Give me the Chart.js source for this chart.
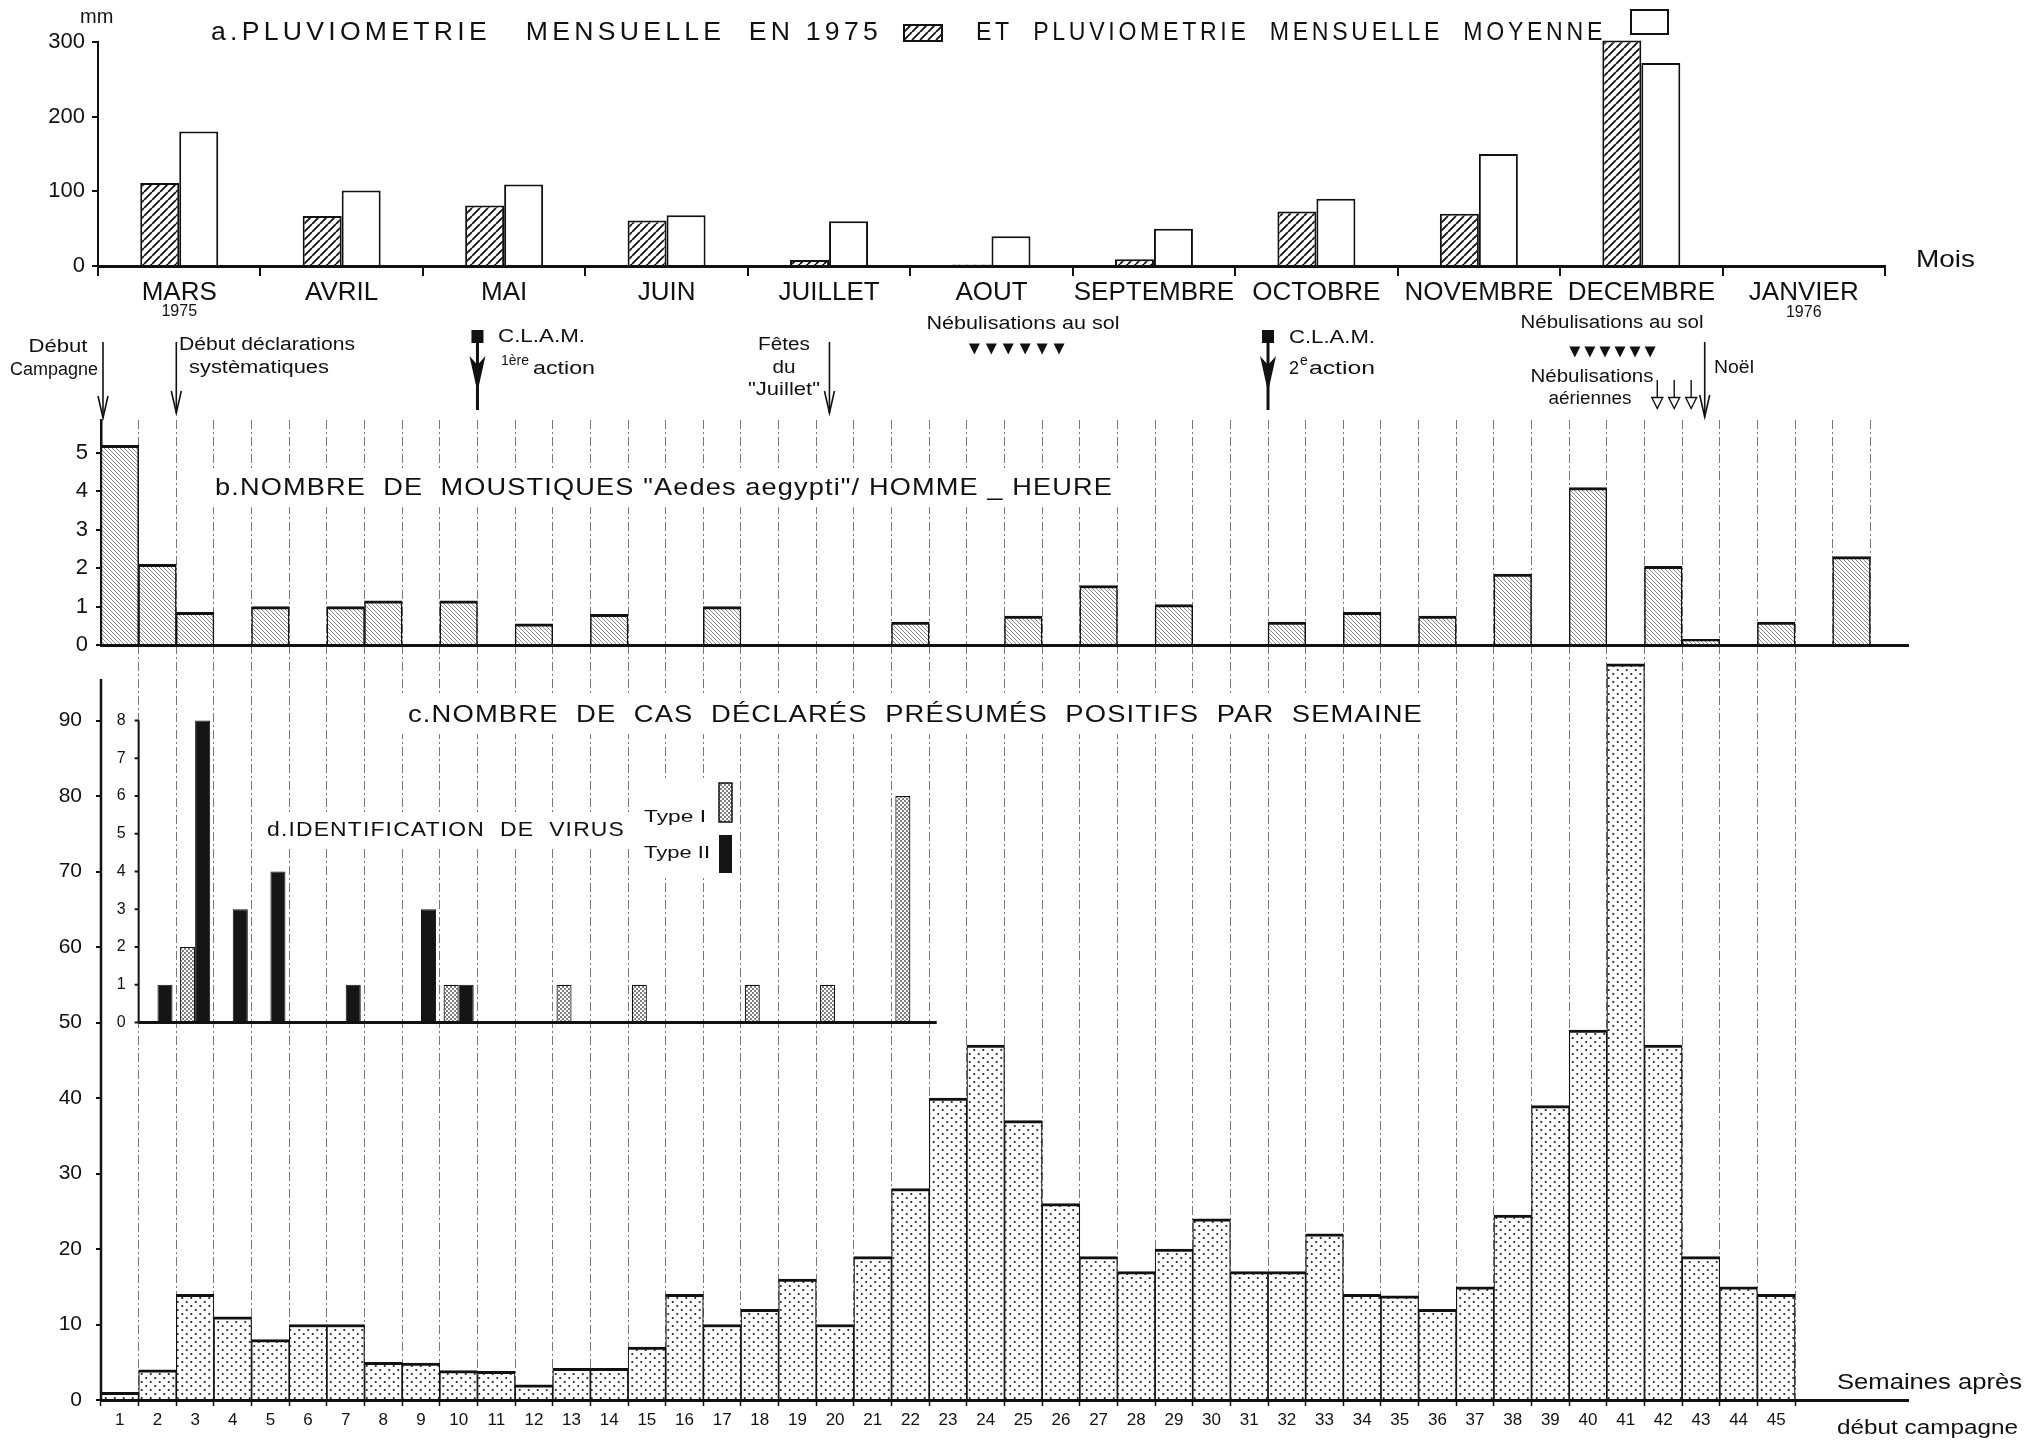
<!DOCTYPE html>
<html lang="fr">
<head>
<meta charset="utf-8">
<title>Pluviométrie, moustiques et cas déclarés</title>
<script src="https://cdn.jsdelivr.net/npm/chart.js@4.4.1/dist/chart.umd.min.js"></script>
<style>
  html, body { margin: 0; padding: 0; background: #fff; }
  #page { position: relative; width: 2041px; height: 1442px; }
  #page canvas { position: absolute; left: 0; top: 0; }
</style>
</head>
<body>
<div id="page">
  <canvas id="graphe-bas" width="2041" height="1442"></canvas>
  <canvas id="graphe-milieu" width="2041" height="1442"></canvas>
  <canvas id="graphe-haut" width="2041" height="1442"></canvas>
</div>
<script>
const POLICE = "'Liberation Sans', Helvetica, Arial, sans-serif"
const LARG = 2041
const HAUT = 1442

// a. Pluviométrie mensuelle (mm)
const mois = ["MARS", "AVRIL", "MAI", "JUIN", "JUILLET", "AOUT", "SEPTEMBRE", "OCTOBRE", "NOVEMBRE", "DECEMBRE", "JANVIER"]
const pluie1975 = [111, 67, 81, 61, 8, 2, 9, 73, 70, 302, null]
const pluieMoyenne = [180, 101, 109, 68, 60, 40, 50, 90, 150, 272, null]

// Semaines après début campagne (la 48e sert seulement de bout d'axe)
const semaines = ["1", "2", "3", "4", "5", "6", "7", "8", "9", "10",
  "11", "12", "13", "14", "15", "16", "17", "18", "19", "20",
  "21", "22", "23", "24", "25", "26", "27", "28", "29", "30",
  "31", "32", "33", "34", "35", "36", "37", "38", "39", "40",
  "41", "42", "43", "44", "45", "46", "47", "48"]

// b. Moustiques Aedes aegypti / homme-heure
const moustiques = [5.2, 2.1, 0.85, null, 1.0, null, 1.0, 1.15, null, 1.15,
  null, 0.55, null, 0.8, null, null, 1.0, null, null, null,
  null, 0.6, null, null, 0.75, null, 1.55, null, 1.05, null,
  null, 0.6, null, 0.85, null, 0.75, null, 1.85, null, 4.1,
  null, 2.05, 0.15, null, 0.6, null, 2.3, null]

// c. Cas déclarés présumés positifs par semaine
const cas = [1, 4, 14, 11, 8, 10, 10, 5, 4.9, 3.9,
  3.8, 2, 4.2, 4.2, 7, 14, 10, 12, 16, 10,
  19, 28, 40, 47, 37, 26, 19, 17, 20, 24,
  17, 17, 22, 14, 13.8, 12, 15, 24.5, 39, 49,
  97.5, 47, 19, 15, 14, null, null, null]

// d. Identification de virus
const virusType1 = [null, null, 2, null, null, null, null, null, null, 1,
  null, null, 1, null, 1, null, null, 1, null, 1,
  null, 6, null, null, null, null, null, null, null, null,
  null, null, null, null, null, null, null, null, null, null,
  null, null, null, null, null, null, null, null]
const virusType2 = [null, 1, 8, 3, 4, null, 1, null, 3, 1,
  null, null, null, null, null, null, null, null, null, null,
  null, null, null, null, null, null, null, null, null, null,
  null, null, null, null, null, null, null, null, null, null,
  null, null, null, null, null, null, null, null]

// Evénements (en semaines depuis le début de la campagne)
const semDebutCampagne = 0
const semDebutDeclarations = 2
const semClam = [10, 31]
const semFetesJuillet = 19.35
const semNoel = 42.6
const semNebSol1 = [23.2, 23.65, 24.1, 24.55, 25.0, 25.45]
const semNebSol2 = [39.15, 39.55, 39.95, 40.35, 40.75, 41.15]
const semNebAir = [41.34, 41.79, 42.24]

// Motifs de remplissage
function motifHachure(couleur, epaisseur, pas, sens) {
  const c = document.createElement("canvas")
  c.width = pas
  c.height = pas
  const g = c.getContext("2d")
  g.fillStyle = "#fff"
  g.fillRect(0, 0, pas, pas)
  g.strokeStyle = couleur
  g.lineWidth = epaisseur
  g.beginPath()
  for (let k = -1; k <= 1; k++) {
    if (sens > 0) { g.moveTo(k * pas, pas); g.lineTo(k * pas + pas, 0) }
    else { g.moveTo(k * pas, 0); g.lineTo(k * pas + pas, pas) }
  }
  g.stroke()
  return g.createPattern(c, "repeat")
}

function motifPoints(couleur, rayon, l, h) {
  const c = document.createElement("canvas")
  c.width = l
  c.height = h
  const g = c.getContext("2d")
  g.fillStyle = "#fff"
  g.fillRect(0, 0, l, h)
  g.fillStyle = couleur
  g.beginPath(); g.arc(l * 0.25, h * 0.25, rayon, 0, 2 * Math.PI); g.fill()
  g.beginPath(); g.arc(l * 0.75, h * 0.75, rayon, 0, 2 * Math.PI); g.fill()
  return g.createPattern(c, "repeat")
}

const hachureNoire = motifHachure("#111", 1.8, 8, 1)
const hachureGrise = motifHachure("#8a8a8a", 1, 4, -1)
const pointsNoirs = motifPoints("#222", 1.1, 9, 8)
const pointsGris = motifPoints("#555", 1, 4, 4)

// Texte ajusté à une largeur donnée
function texte(ctx, chaine, x, y, taille, o = {}) {
  ctx.save()
  ctx.font = `${o.gras ? "bold " : ""}${taille}px ${POLICE}`
  if ("letterSpacing" in ctx) ctx.letterSpacing = (o.espace || 0) + "px"
  ctx.textBaseline = "middle"
  ctx.textAlign = "left"
  const naturelle = ctx.measureText(chaine).width
  const largeur = o.largeur || naturelle
  let x0 = x
  if (o.align === "center") x0 = x - largeur / 2
  if (o.align === "right") x0 = x - largeur
  if (o.fond) {
    ctx.fillStyle = "#fff"
    ctx.fillRect(x0 - 8, y - taille * 0.8, largeur + 16, taille * 1.6)
  }
  ctx.translate(x0, y)
  ctx.scale(largeur / naturelle, 1)
  ctx.fillStyle = "#111"
  ctx.fillText(chaine, 0, 0)
  ctx.restore()
}

// Flèches et repères
function flecheFine(ctx, x, y0, y1) {
  ctx.save()
  ctx.strokeStyle = "#111"
  ctx.lineWidth = 1.6
  ctx.beginPath(); ctx.moveTo(x, y0); ctx.lineTo(x, y1); ctx.stroke()
  ctx.beginPath(); ctx.moveTo(x - 5, y1 - 22); ctx.lineTo(x, y1); ctx.lineTo(x + 5, y1 - 22); ctx.stroke()
  ctx.restore()
}

function flecheClam(ctx, x) {
  ctx.save()
  ctx.fillStyle = "#111"
  ctx.strokeStyle = "#111"
  ctx.fillRect(x - 6, 330, 12, 13)
  ctx.lineWidth = 3
  ctx.beginPath(); ctx.moveTo(x, 343); ctx.lineTo(x, 410); ctx.stroke()
  ctx.beginPath()
  ctx.moveTo(x - 8, 356); ctx.lineTo(x, 365); ctx.lineTo(x + 8, 356); ctx.lineTo(x, 392)
  ctx.closePath()
  ctx.fill()
  ctx.restore()
}

function triangleBas(ctx, x, y, t, plein) {
  ctx.beginPath()
  ctx.moveTo(x - t / 2, y - t / 2); ctx.lineTo(x + t / 2, y - t / 2); ctx.lineTo(x, y + t / 2)
  ctx.closePath()
  if (plein) ctx.fill()
  else ctx.stroke()
}

// Place la zone de tracé exactement
function zone(gauche, haut, droite, bas) {
  return {
    padding: { left: 0, top: haut, right: LARG - droite, bottom: 0 },
    xFit: s => { s.height = HAUT - bas },
    yFit: s => { s.width = gauche }
  }
}

function lignesSemaine(c, n) {
  return (c.index !== undefined && c.index >= 1 && c.index <= n) ? "rgba(30,30,30,0.6)" : "rgba(0,0,0,0)"
}

const base = {
  responsive: false,
  animation: false,
  devicePixelRatio: 1,
  events: [],
  plugins: { legend: { display: false }, tooltip: { enabled: false } }
}

// ---------- a. Pluviométrie ----------
const annotationsHaut = {
  id: "annotationsHaut",
  afterDraw(chart) {
    const ctx = chart.ctx
    texte(ctx, "a.PLUVIOMETRIE   MENSUELLE  EN 1975", 211, 33, 25, { largeur: 671, espace: 4 })
    ctx.save()
    ctx.fillStyle = hachureNoire
    ctx.fillRect(904, 25, 38, 16)
    ctx.strokeStyle = "#111"
    ctx.lineWidth = 2
    ctx.strokeRect(904, 25, 38, 16)
    ctx.restore()
    texte(ctx, "ET  PLUVIOMETRIE  MENSUELLE  MOYENNE", 976, 33, 25, { largeur: 630, espace: 4 })
    ctx.save()
    ctx.strokeStyle = "#111"
    ctx.lineWidth = 2
    ctx.strokeRect(1631, 10, 37, 24)
    ctx.restore()
    texte(ctx, "mm", 80, 17, 20)
    texte(ctx, "Mois", 1916, 260, 24, { largeur: 59 })
    const xs = chart.scales.x
    texte(ctx, "1975", xs.getPixelForValue(0), 312, 16, { align: "center" })
    texte(ctx, "1976", xs.getPixelForValue(10), 313, 16, { align: "center" })
  }
}

const zHaut = zone(98, 42, 1885, 266)
new Chart(document.getElementById("graphe-haut"), {
  type: "bar",
  data: {
    labels: mois,
    datasets: [
      { label: "Pluviométrie mensuelle en 1975", data: pluie1975, backgroundColor: hachureNoire, borderColor: "#111", borderWidth: 2, clip: false },
      { label: "Pluviométrie mensuelle moyenne", data: pluieMoyenne, backgroundColor: "#fff", borderColor: "#111", borderWidth: 2 }
    ]
  },
  options: {
    ...base,
    layout: { padding: zHaut.padding, autoPadding: false },
    datasets: { bar: { categoryPercentage: 0.48, barPercentage: 1 } },
    scales: {
      x: {
        afterFit: zHaut.xFit,
        grid: { offset: true, drawOnChartArea: false, tickLength: 10, color: "#111", lineWidth: 2 },
        border: { color: "#111", width: 3 },
        ticks: { color: "#111", font: { family: POLICE, size: 26 }, padding: 1, maxRotation: 0, autoSkip: false }
      },
      y: {
        min: 0, max: 300,
        afterFit: zHaut.yFit,
        ticks: { stepSize: 100, color: "#111", font: { family: POLICE, size: 22 }, padding: 7 },
        grid: { drawOnChartArea: false, tickLength: 6, color: "#111", lineWidth: 2 },
        border: { color: "#111", width: 2 }
      }
    }
  },
  plugins: [annotationsHaut]
})

// ---------- b. Moustiques ----------
const annotationsMilieu = {
  id: "annotationsMilieu",
  afterDraw(chart) {
    const ctx = chart.ctx
    const xs = chart.scales.x
    const px = s => xs.getPixelForValue(s - 0.5)

    texte(ctx, "b.NOMBRE  DE  MOUSTIQUES \"Aedes aegypti\"/ HOMME _ HEURE", 215, 488, 24, { largeur: 898, espace: 1, fond: true })

    texte(ctx, "Début", 58, 347, 18, { align: "center", largeur: 59 })
    texte(ctx, "Campagne", 54, 370, 18, { align: "center", largeur: 88 })
    flecheFine(ctx, px(semDebutCampagne) + 2, 342, 418)

    texte(ctx, "Début déclarations", 179, 345, 18, { largeur: 176 })
    texte(ctx, "systèmatiques", 189, 368, 18, { largeur: 140 })
    flecheFine(ctx, px(semDebutDeclarations), 342, 413)

    flecheClam(ctx, px(semClam[0]))
    texte(ctx, "C.L.A.M.", 498, 337, 18, { largeur: 87 })
    texte(ctx, "1ère", 501, 361, 14, { largeur: 28 })
    texte(ctx, "action", 533, 369, 18, { largeur: 62 })

    texte(ctx, "Fêtes", 784, 345, 18, { align: "center", largeur: 52 })
    texte(ctx, "du", 784, 368, 18, { align: "center", largeur: 23 })
    texte(ctx, "\"Juillet\"", 784, 390, 18, { align: "center", largeur: 72 })
    flecheFine(ctx, px(semFetesJuillet), 342, 413)

    ctx.save()
    ctx.fillStyle = "#111"
    ctx.strokeStyle = "#111"
    ctx.lineWidth = 1.4
    texte(ctx, "Nébulisations au sol", 1023, 324, 18, { align: "center", largeur: 193 })
    semNebSol1.forEach(s => triangleBas(ctx, px(s), 349, 11, true))
    texte(ctx, "Nébulisations au sol", 1612, 323, 18, { align: "center", largeur: 183 })
    semNebSol2.forEach(s => triangleBas(ctx, px(s), 352, 11, true))
    semNebAir.forEach(s => {
      const x = px(s)
      ctx.beginPath(); ctx.moveTo(x, 380); ctx.lineTo(x, 398); ctx.stroke()
      triangleBas(ctx, x, 403, 11, false)
    })
    ctx.restore()

    flecheClam(ctx, px(semClam[1]))
    texte(ctx, "C.L.A.M.", 1289, 338, 18, { largeur: 86 })
    texte(ctx, "2", 1289, 369, 18)
    texte(ctx, "e", 1300, 361, 14)
    texte(ctx, "action", 1309, 369, 18, { largeur: 66 })

    texte(ctx, "Nébulisations", 1592, 377, 18, { align: "center", largeur: 123 })
    texte(ctx, "aériennes", 1590, 399, 18, { align: "center", largeur: 83 })

    texte(ctx, "Noël", 1714, 368, 18, { largeur: 40 })
    flecheFine(ctx, px(semNoel), 342, 417)
  }
}

const zMilieu = zone(101, 420, 1908, 645)
new Chart(document.getElementById("graphe-milieu"), {
  type: "bar",
  data: {
    labels: semaines,
    datasets: [{
      label: "Moustiques / homme-heure",
      data: moustiques,
      backgroundColor: hachureGrise,
      borderColor: "#111",
      borderWidth: { top: 3, left: 1.5, right: 1.5, bottom: 0 },
      barPercentage: 1,
      categoryPercentage: 1
    }]
  },
  options: {
    ...base,
    layout: { padding: zMilieu.padding, autoPadding: false },
    scales: {
      x: {
        afterFit: zMilieu.xFit,
        ticks: { display: false },
        grid: { offset: true, color: c => lignesSemaine(c, 47), lineWidth: 1, drawTicks: false },
        border: { color: "#111", width: 3, dash: [9, 3, 2, 3] }
      },
      y: {
        min: 0, max: 5.86,
        afterFit: zMilieu.yFit,
        ticks: { stepSize: 1, includeBounds: false, color: "#111", font: { family: POLICE, size: 22 }, padding: 8 },
        grid: { drawOnChartArea: false, tickLength: 5, color: "#111", lineWidth: 2 },
        border: { color: "#111", width: 2.5 }
      }
    }
  },
  plugins: [annotationsMilieu]
})

// ---------- c. Cas déclarés et d. virus ----------
const annotationsBas = {
  id: "annotationsBas",
  afterDraw(chart) {
    const ctx = chart.ctx
    const { x: xs, y: ys, yv } = chart.scales
    const px = s => xs.getPixelForValue(s - 0.5)

    ctx.save()
    ctx.strokeStyle = "#111"
    ctx.lineWidth = 2.5
    ctx.beginPath(); ctx.moveTo(101, ys.getPixelForValue(0)); ctx.lineTo(101, ys.getPixelForValue(95.5)); ctx.stroke()

    // axe du panneau d
    const xv = px(1)
    ctx.lineWidth = 2
    ctx.beginPath(); ctx.moveTo(xv, yv.getPixelForValue(0)); ctx.lineTo(xv, yv.getPixelForValue(8)); ctx.stroke()
    for (let v = 0; v <= 8; v++) {
      const y = yv.getPixelForValue(v)
      ctx.beginPath(); ctx.moveTo(xv - 4, y); ctx.lineTo(xv, y); ctx.stroke()
      texte(ctx, String(v), xv - 13, y, 16, { align: "right" })
    }
    ctx.lineWidth = 3
    ctx.beginPath(); ctx.moveTo(xv, yv.getPixelForValue(0)); ctx.lineTo(px(22.2), yv.getPixelForValue(0)); ctx.stroke()
    ctx.restore()

    texte(ctx, "c.NOMBRE  DE  CAS  DÉCLARÉS  PRÉSUMÉS  POSITIFS  PAR  SEMAINE", 408, 715, 24, { largeur: 1015, espace: 1, fond: true })
    texte(ctx, "d.IDENTIFICATION  DE  VIRUS", 267, 830, 20, { largeur: 358, espace: 1, fond: true })

    ctx.save()
    ctx.fillStyle = "#fff"
    ctx.fillRect(638, 778, 100, 100)
    ctx.restore()
    texte(ctx, "Type I", 644, 817, 17, { largeur: 62 })
    texte(ctx, "Type II", 644, 853, 17, { largeur: 66 })
    ctx.save()
    ctx.strokeStyle = "#111"
    ctx.lineWidth = 1.5
    ctx.fillStyle = pointsGris
    ctx.fillRect(719, 783, 13, 39)
    ctx.strokeRect(719, 783, 13, 39)
    ctx.fillStyle = "#151515"
    ctx.fillRect(719, 835, 13, 38)
    ctx.restore()

    texte(ctx, "Semaines après", 1837, 1383, 22, { largeur: 185 })
    texte(ctx, "début campagne", 1837, 1428, 20, { largeur: 181 })
  }
}

const zBas = zone(101, 645, 1908, 1400)
new Chart(document.getElementById("graphe-bas"), {
  type: "bar",
  data: {
    labels: semaines,
    datasets: [
      {
        label: "Cas déclarés présumés positifs",
        data: cas,
        yAxisID: "y",
        grouped: false,
        order: 2,
        backgroundColor: pointsNoirs,
        borderColor: "#111",
        borderWidth: { top: 3, left: 1.2, right: 1.2, bottom: 0 },
        barPercentage: 1,
        categoryPercentage: 1
      },
      {
        label: "Type I",
        data: virusType1,
        yAxisID: "yv",
        order: 1,
        backgroundColor: pointsGris,
        borderColor: "#111",
        borderWidth: 1.2,
        barPercentage: 1,
        categoryPercentage: 0.8
      },
      {
        label: "Type II",
        data: virusType2,
        yAxisID: "yv",
        order: 1,
        backgroundColor: "#151515",
        borderColor: "#111",
        borderWidth: 1,
        barPercentage: 1,
        categoryPercentage: 0.8
      }
    ]
  },
  options: {
    ...base,
    layout: { padding: zBas.padding, autoPadding: false },
    scales: {
      x: {
        afterFit: zBas.xFit,
        ticks: {
          color: "#111", font: { family: POLICE, size: 17 }, padding: 4, autoSkip: false, maxRotation: 0,
          callback: (v, i) => (i < 45 ? semaines[i] : "")
        },
        grid: {
          offset: true, color: c => lignesSemaine(c, 45), lineWidth: 1, tickLength: 6, tickWidth: 1.5,
          tickColor: c => (c.index !== undefined && c.index <= 45 ? "#111" : "rgba(0,0,0,0)")
        },
        border: { color: "#111", width: 3, dash: [9, 3, 2, 3] }
      },
      y: {
        min: 0, max: 100,
        afterFit: zBas.yFit,
        ticks: { stepSize: 10, color: "#111", font: { family: POLICE, size: 21 }, padding: 14, callback: v => (v <= 90 ? v : "") },
        grid: { drawOnChartArea: false, tickLength: 5, lineWidth: 2, color: c => (c.tick && c.tick.value <= 90 ? "#111" : "rgba(0,0,0,0)") },
        border: { display: false }
      },
      yv: { type: "linear", min: -10, max: 10, display: false }
    }
  },
  plugins: [annotationsBas]
})
</script>
</body>
</html>
